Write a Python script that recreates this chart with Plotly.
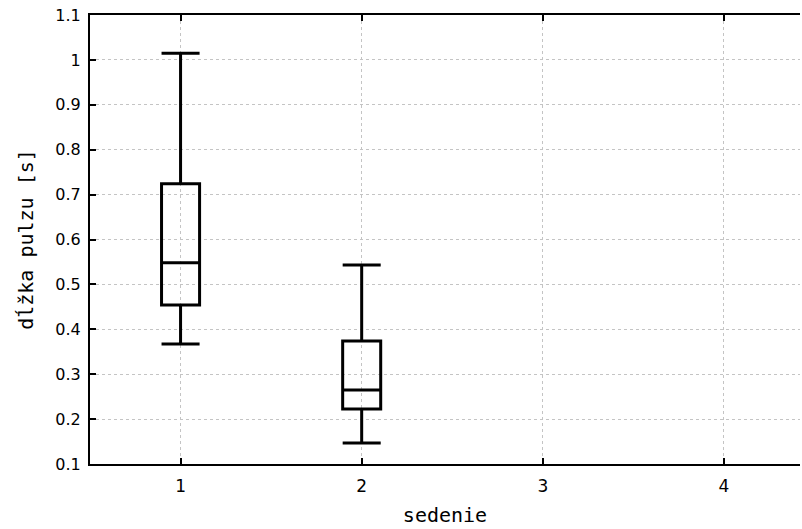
import plotly.graph_objects as go

# Session summary statistics of pulse length [s]
sessions = [1, 2]
lower_fence = [0.367, 0.147]
q1 = [0.454, 0.2225]
median = [0.548, 0.265]
q3 = [0.724, 0.374]
upper_fence = [1.015, 0.543]

x_ticks = [1, 2, 3, 4]
y_ticks = [0.1, 0.2, 0.3, 0.4, 0.5, 0.6, 0.7, 0.8, 0.9, 1.0, 1.1]
y_tick_text = ["0.1", "0.2", "0.3", "0.4", "0.5", "0.6", "0.7", "0.8", "0.9", "1", "1.1"]

fig = go.Figure()
fig.add_trace(go.Box(
    x=sessions,
    q1=q1,
    median=median,
    q3=q3,
    lowerfence=lower_fence,
    upperfence=upper_fence,
    width=0.21,
    whiskerwidth=1,
    boxpoints=False,
    line=dict(color="black", width=3),
    fillcolor="rgba(255,255,255,0)",
    showlegend=False,
    hoverinfo="skip",
))

axis_common = dict(
    showline=True,
    linecolor="black",
    linewidth=2,
    ticks="inside",
    ticklen=6,
    tickwidth=2,
    tickcolor="black",
    showgrid=True,
    gridcolor="#c4c4c4",
    gridwidth=1,
    griddash="dot",
    zeroline=False,
)

fig.update_xaxes(
    **axis_common,
    range=[0.5, 4.42],
    tickmode="array",
    tickvals=x_ticks,
    ticktext=[str(v) for v in x_ticks],
    mirror="ticks",
    tickfont=dict(family="DejaVu Sans", size=17, color="black"),
    ticklabelstandoff=6,
    title=dict(text="sedenie", font=dict(family="DejaVu Sans Mono", size=20, color="black"), standoff=13),
)
fig.update_yaxes(
    **axis_common,
    range=[0.1, 1.1],
    tickmode="array",
    tickvals=y_ticks,
    ticktext=y_tick_text,
    mirror=False,
    tickfont=dict(family="DejaVu Sans", size=16, color="black"),
    ticklabelstandoff=4,
    title=dict(text="dĺžka pulzu [s]", font=dict(family="DejaVu Sans Mono", size=20, color="black"), standoff=16),
)

fig.update_layout(
    width=802,
    height=529,
    margin=dict(l=90, r=2, t=15, b=65),
    plot_bgcolor="white",
    paper_bgcolor="white",
)

fig.write_html("out.html")
